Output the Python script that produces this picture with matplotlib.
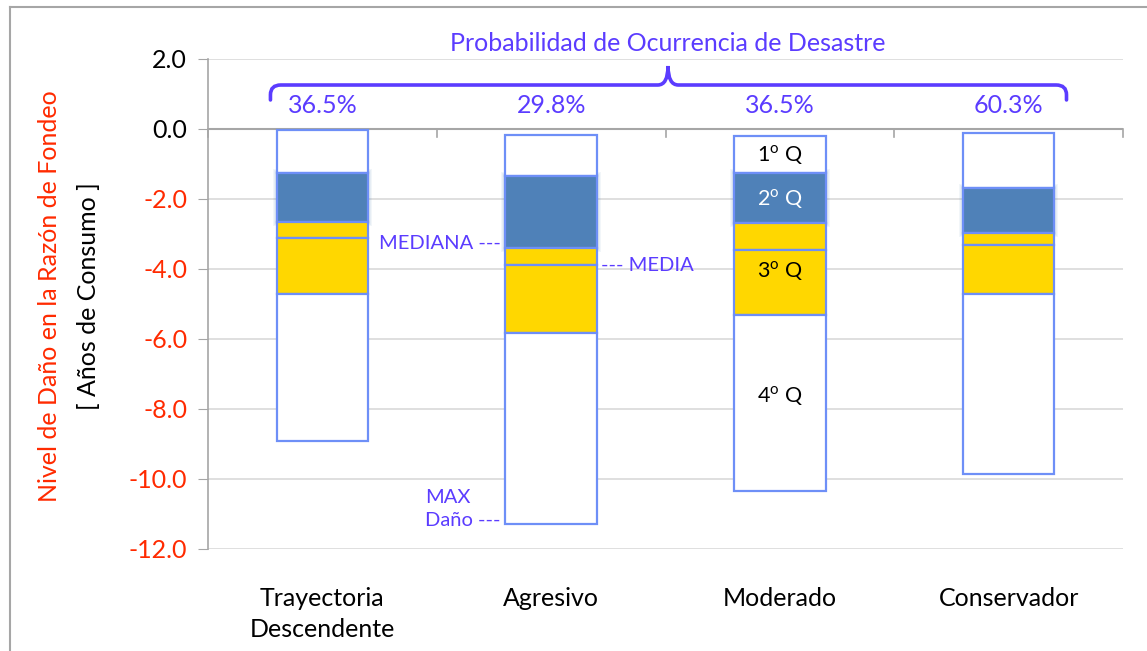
import matplotlib
matplotlib.use("Agg")
import matplotlib.pyplot as plt
from matplotlib.path import Path
from matplotlib.patches import PathPatch
from matplotlib.lines import Line2D

# ==================== DATA ====================
categorias = ["Trayectoria\nDescendente", "Agresivo", "Moderado", "Conservador"]
tope = [-0.03, -0.17, -0.20, -0.11]        # inicio del 1er cuartil
q1 = [-1.26, -1.34, -1.26, -1.69]
mediana = [-2.66, -3.40, -2.69, -2.97]
media = [-3.11, -3.89, -3.46, -3.31]
q3 = [-4.71, -5.83, -5.31, -4.71]
max_dano = [-8.91, -11.29, -10.34, -9.86]
prob_desastre = ["36.5%", "29.8%", "36.5%", "60.3%"]
yticks = [2, 0, -2, -4, -6, -8, -10, -12]
# ==============================================

PURPLE = "#5b3cff"
RED = "#ff2a00"
EDGE = "#6e8ff7"
BLUE = "#4f81b8"
YELLOW = "#ffd700"

plt.rcParams["font.family"] = ["Lato", "DejaVu Sans"]
plt.rcParams["mathtext.fontset"] = "custom"
plt.rcParams["mathtext.rm"] = "Lato"

W, H = 1147, 651
fig = plt.figure(figsize=(W / 100, H / 100), dpi=100)
ax = fig.add_axes([208 / W, 1 - 549 / H, (1123 - 208) / W, (549 - 59) / H])

x = list(range(len(categorias)))
bw = 0.4

# soft glow behind the blue segment
for k in range(4, 0, -1):
    for i in x:
        ax.bar(i, q1[i] - mediana[i] + 0.06 * k, bottom=mediana[i] - 0.03 * k,
               width=bw + 0.009 * k, color=BLUE, alpha=0.07, linewidth=0, zorder=2)

segmentos = [
    (tope, q1, "white"),
    (q1, mediana, BLUE),
    (mediana, media, YELLOW),
    (media, q3, YELLOW),
    (q3, max_dano, "white"),
]
for sup, inf, color in segmentos:
    alturas = [s - f for s, f in zip(sup, inf)]
    ax.bar(x, alturas, bottom=inf, width=bw, color=color,
           edgecolor=EDGE, linewidth=1.6, zorder=3)

ax.set_xlim(-0.5, 3.5)
ax.set_ylim(-12, 2)
ax.set_yticks(yticks)
ax.set_yticklabels([f"{v:.1f}" for v in yticks], fontsize=18)
for t, v in zip(ax.get_yticklabels(), yticks):
    t.set_color("black" if v >= 0 else RED)
ax.tick_params(axis="y", length=7, color="#a6a6a6", pad=8)

ax.set_xticks(x)
ax.set_xticklabels(categorias, fontsize=18, linespacing=1.45)
ax.tick_params(axis="x", length=0, pad=27)

ax.grid(axis="y", color="#d9d9d9", linewidth=1.2, zorder=0)
ax.set_axisbelow(True)
for s in ["top", "right", "bottom"]:
    ax.spines[s].set_visible(False)
ax.spines["left"].set_color("#a6a6a6")
ax.spines["left"].set_linewidth(1.2)

# category axis crosses at 0
ax.axhline(0, color="#a6a6a6", linewidth=1.5, zorder=1)
for b in [-0.5, 0.5, 1.5, 2.5, 3.5]:
    ax.plot([b, b], [0, -0.22], color="#a6a6a6", linewidth=1.2, zorder=1, clip_on=False)

# probabilities and brace
for i, p in zip(x, prob_desastre):
    ax.text(i, 0.66, p, ha="center", va="center", fontsize=18, color=PURPLE)

ax.text(1.51, 2.43, "Probabilidad de Ocurrencia de Desastre", ha="center", va="center",
        fontsize=18, color=PURPLE, clip_on=False)

xl, xr, xc = -0.227, 3.253, 1.511
yl, ye, yc = 1.257, 0.83, 1.80
rx, ry = 0.045, 0.28
verts = [
    (xl, ye), (xl, yl - ry), (xl, yl), (xl + rx, yl),
    (xc - rx, yl), (xc, yl), (xc, yc),
    (xc, yl), (xc + rx, yl),
    (xr - rx, yl), (xr, yl), (xr, yl - ry), (xr, ye),
]
codes = [Path.MOVETO, Path.LINETO, Path.CURVE3, Path.CURVE3,
         Path.LINETO, Path.CURVE3, Path.CURVE3,
         Path.CURVE3, Path.CURVE3,
         Path.LINETO, Path.CURVE3, Path.CURVE3, Path.LINETO]
ax.add_patch(PathPatch(Path(verts, codes), facecolor="none", edgecolor=PURPLE,
                       linewidth=2.6, capstyle="round", clip_on=False, zorder=4))

# annotations on Agresivo
ax.text(1 - bw / 2 - 0.02, -3.28, "MEDIANA ---", ha="right", va="center",
        fontsize=14.5, color=PURPLE)
ax.text(1 + bw / 2 + 0.02, -3.89, "--- MEDIA", ha="left", va="center",
        fontsize=14.5, color=PURPLE)
ax.text(1 - bw / 2 - 0.02, -10.85, "MAX\nDaño ---", ha="right", va="center",
        multialignment="left", fontsize=14.5, color=PURPLE, linespacing=1.4)

# quartile labels on Moderado
ax.text(2, -0.74, r"1$^{\mathrm{o}}$ Q", ha="center", va="center", fontsize=15.5, color="black", zorder=5)
ax.text(2, -2.0, r"2$^{\mathrm{o}}$ Q", ha="center", va="center", fontsize=15.5, color="white", zorder=5)
ax.text(2, -4.06, r"3$^{\mathrm{o}}$ Q", ha="center", va="center", fontsize=15.5, color="black", zorder=5)
ax.text(2, -7.63, r"4$^{\mathrm{o}}$ Q", ha="center", va="center", fontsize=15.5, color="black", zorder=5)

# y axis titles
fig.text(50 / W, 1 - 296 / H, "Nivel de Daño en la Razón de Fondeo", rotation=90,
         ha="center", va="center", fontsize=18, color=RED)
fig.text(88 / W, 1 - 296 / H, "[ Años de Consumo ]", rotation=90,
         ha="center", va="center", fontsize=18, color="black")

# outer chart frame
fig.add_artist(Line2D([10 / W, 10 / W], [0, 1 - 7 / H], color="#a6a6a6", linewidth=1.5))
fig.add_artist(Line2D([10 / W, 1], [1 - 7 / H, 1 - 7 / H], color="#a6a6a6", linewidth=1.5))

fig.savefig("out.png", dpi=100)
